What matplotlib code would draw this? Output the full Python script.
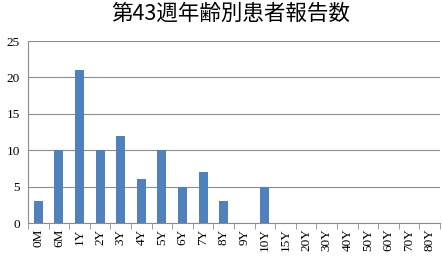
import numpy as np
import matplotlib
matplotlib.use("Agg")
import matplotlib.pyplot as plt
from matplotlib.ticker import FixedLocator, NullFormatter

# age groups and weekly patient counts
age_groups = ["0M", "6M", "1Y", "2Y", "3Y", "4Y", "5Y", "6Y", "7Y", "8Y",
              "9Y", "10Y", "15Y", "20Y", "30Y", "40Y", "50Y", "60Y", "70Y", "80Y"]
patients = [3, 10, 21, 10, 12, 6, 10, 5, 7, 3,
            0, 5, 0, 0, 0, 0, 0, 0, 0, 0]
y_ticks = [0, 5, 10, 15, 20, 25]

title = "第43週年齢別患者報告数"

fig = plt.figure(figsize=(4.42, 2.61), dpi=100)
ax = fig.add_axes([28 / 442, 1 - 223 / 261, 412 / 442, 182 / 261])

x = np.arange(len(age_groups))
ax.bar(x, patients, width=0.44, color="#4F81BD", zorder=3)

ax.set_xlim(-0.5, len(age_groups) - 0.5)
ax.set_ylim(0, 25)
ax.set_yticks(y_ticks)
ax.set_yticklabels([str(v) for v in y_ticks], family="Liberation Serif", fontsize=9.5)
ax.yaxis.grid(True, color="#8c8c8c", linewidth=0.8, zorder=0)
ax.tick_params(axis="y", length=0, pad=6)

# category labels centred, tick marks on boundaries
ax.set_xticks(x)
ax.set_xticklabels(age_groups, rotation=90, family="Liberation Serif", fontsize=9.5)
ax.tick_params(axis="x", which="major", length=0, pad=4)
ax.xaxis.set_minor_locator(FixedLocator(np.arange(-0.5, len(age_groups), 1.0)))
ax.xaxis.set_minor_formatter(NullFormatter())
ax.tick_params(axis="x", which="minor", length=4, color="#8c8c8c", direction="out")

for side in ["top", "right"]:
    ax.spines[side].set_visible(False)
ax.spines["left"].set_color("#8c8c8c")
ax.spines["bottom"].set_color("#8c8c8c")

fig.text(231 / 442, 1 - 14 / 261, title, ha="center", va="center", fontsize=15.5,
         family=["Noto Sans CJK JP", "DejaVu Sans"])

fig.savefig("out.png", dpi=100)
